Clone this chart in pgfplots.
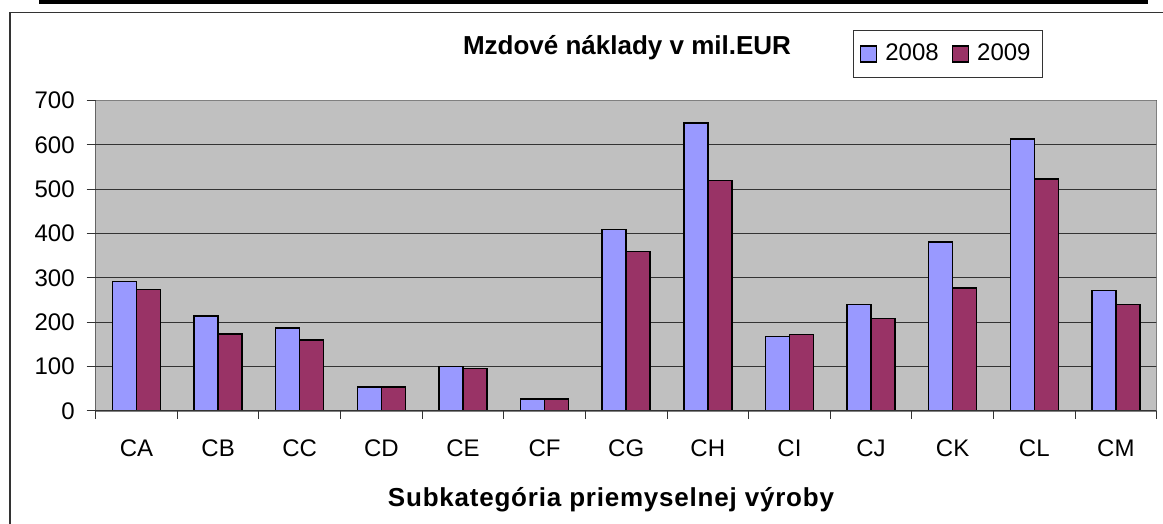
\documentclass[border=0pt]{standalone}
\usepackage{pgfplots}
\pgfplotsset{compat=1.18}
\usepackage{fontspec}
\setmainfont{Liberation Sans}
\definecolor{c08}{HTML}{9999FF}
\definecolor{c09}{HTML}{993366}
\definecolor{bg}{HTML}{C0C0C0}
\pgfplotstableread{
x y08 y09
0 292 274
1 214 173
2 187 160
3 54 54
4 100 96
5 27 27
6 409 360
7 649 519
8 168 172
9 240 209
10 381 277
11 613 523
12 272 240
}\mydata
\begin{document}
\begin{tikzpicture}
\useasboundingbox (0,0) rectangle (581.5pt,262pt);
\fill[black] (19.5pt,260pt) rectangle (574pt,262pt);
\draw[line width=0.6pt, black!80] (5pt,0) -- (5pt,255.6pt) -- (581.5pt,255.6pt);
\begin{axis}[
  at={(47.85pt,56.5pt)}, anchor=south west,
  scale only axis, width=530.5pt, height=155.3pt,
  ymin=0, ymax=700, ytick={0,100,...,700},
  xmin=-0.5, xmax=12.5,
  xtick={0,...,12},
  xticklabels={CA,CB,CC,CD,CE,CF,CG,CH,CI,CJ,CK,CL,CM},
  minor xtick={-0.5,0.5,...,12.5},
  major x tick style={draw=none},
  xtick pos=left, ytick pos=left,
  tick align=outside,
  major tick length=4.5pt, minor tick length=4pt,
  tick style={black!80, line width=0.5pt},
  axis line style={draw=none},
  axis background/.style={fill=bg, draw=gray, line width=0.6pt},
  ymajorgrids, grid style={black!80, line width=0.5pt},
  /pgf/number format/assume math mode=true,
  tick label style={font=\fontsize{12}{14}\selectfont},
  xticklabel style={yshift=-6.5pt},
  yticklabel style={xshift=-2.5pt},
  ybar=0pt, bar width=12pt,
  legend style={at={(0.8035,1.1495)}, anchor=center, draw=black!80, line width=0.5pt,
    font=\fontsize{12}{14}\selectfont, inner xsep=3pt, inner ysep=4pt,
    nodes={inner xsep=3pt, inner ysep=3pt}},
  legend columns=2,
  legend image code/.code={\draw[#1, draw=black, line width=0.7pt] (0pt,-4pt) rectangle (8pt,4pt); \path (9pt,0pt);},
  /tikz/every even column/.append style={column sep=3.5pt},
]
\addplot[fill=c08, draw=black, line width=0.75pt] table[x=x,y=y08] {\mydata};
\addplot[fill=c09, draw=black, line width=0.75pt] table[x=x,y=y09] {\mydata};
\legend{2008,2009}
\draw[black!80, line width=0.6pt] (rel axis cs:0,1) -- (rel axis cs:0,0) -- (rel axis cs:1,0);
\draw[gray, line width=0.6pt] (rel axis cs:0,1) -- (rel axis cs:1,1) -- (rel axis cs:1,0);
\end{axis}
\node[anchor=base, font=\bfseries\fontsize{13}{15}\selectfont, inner sep=0pt] at (313.5pt,234.85pt) {Mzdové náklady v mil.EUR};
\node[anchor=base, font=\bfseries\fontsize{13}{15}\selectfont\addfontfeature{LetterSpace=3}, inner sep=0pt] at (305.5pt,8.65pt) {Subkategória priemyselnej výroby};
\end{tikzpicture}
\end{document}
